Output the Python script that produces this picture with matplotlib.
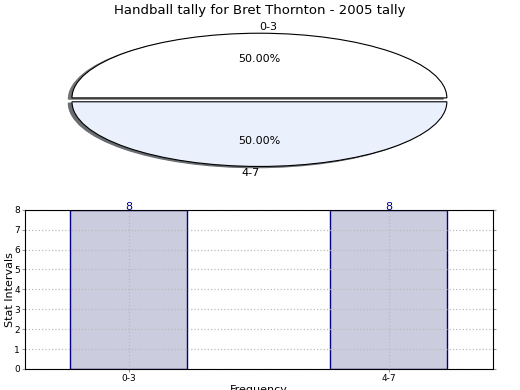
import matplotlib.pyplot as plt

title = 'Handball tally for Bret Thornton - 2005 tally'
categories = ['0-3', '4-7']
counts = [8, 8]
pie_colors = ['#ffffff', '#eaf0fc']

fig = plt.figure(figsize=(5.2, 3.9), dpi=100)
fig.suptitle(title, fontsize=9.5, y=0.99)

# pie, squashed into an ellipse
ax1 = fig.add_axes([0.1024, 0.545, 0.793, 0.398])
wedges, labels, pcts = ax1.pie(counts, labels=categories, colors=pie_colors, autopct='%.2f%%',
                               startangle=0, explode=[0.03, 0.03],
                               shadow={'ox': -0.014, 'oy': -0.014, 'shade': 0.55, 'alpha': 1.0},
                               wedgeprops={'edgecolor': 'black', 'linewidth': 0.8},
                               textprops={'fontsize': 8})
labels[0].set_ha('left')
labels[1].set_ha('right')
ax1.set_aspect('auto')
ax1.set_xlim(-1.1, 1.1)
ax1.set_ylim(-1.2, 1.2)

# bar chart
ax2 = fig.add_axes([0.048, 0.054, 0.9, 0.408])
x = list(range(len(categories)))
ax2.bar(x, counts, width=0.45, color='#ccccdf', edgecolor='#000080', linewidth=1, zorder=1)
for xi, c in zip(x, counts):
    ax2.annotate(str(c), (xi, c), xytext=(0, -1.5), textcoords='offset points',
                 color='#000080', ha='center', va='bottom', fontsize=8, zorder=6)
ax2.set_xlim(-0.4, 1.4)
ax2.set_ylim(0, 8)
ax2.set_xticks(x)
ax2.set_xticklabels(categories)
ax2.set_yticks(range(0, 9))
ax2.tick_params(labelsize=6.5, direction='out', right=True, length=2, pad=1.5, color='#999999')
ax2.grid(True, linestyle=':', color='#bbbbbb', linewidth=0.9, zorder=2)
ax2.set_axisbelow(False)
for sp in ax2.spines.values():
    sp.set_zorder(5)
ax2.set_ylabel('Stat Intervals', fontsize=8)
ax2.yaxis.set_label_coords(-0.022, 0.5)
ax2.set_xlabel('Frequency', fontsize=8)
ax2.xaxis.set_label_coords(0.5, -0.10)

fig.savefig('out.png', dpi=100)
